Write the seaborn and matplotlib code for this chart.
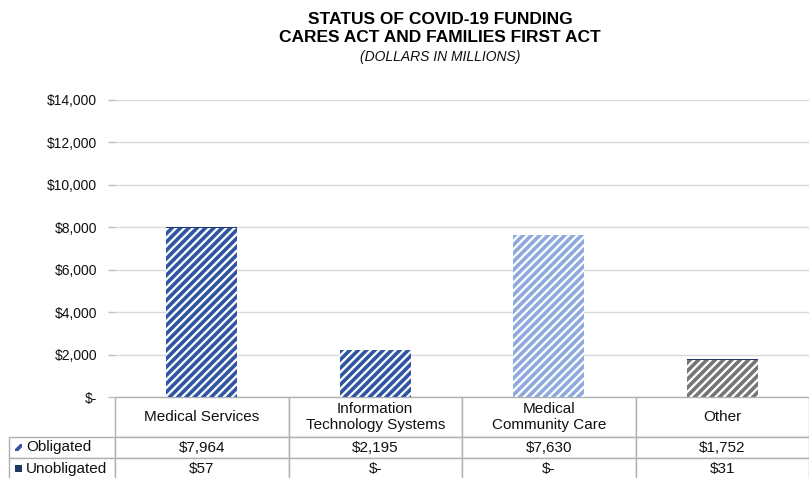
import matplotlib
matplotlib.use("Agg")
import matplotlib.pyplot as plt
import pandas as pd
import seaborn as sns
from matplotlib.patches import Rectangle

# Funding by account (dollars in millions)
categories = ["Medical Services", "Information Technology Systems",
              "Medical Community Care", "Other"]
header_labels = ["Medical Services", "Information\nTechnology Systems",
                 "Medical\nCommunity Care", "Other"]
obligated = [7964, 2195, 7630, 1752]
unobligated = [57, 0, 0, 31]
series_names = ["Obligated", "Unobligated"]
y_ticks = [0, 2000, 4000, 6000, 8000, 10000, 12000, 14000]

hatch_colors = ["#2F55A3", "#2F55A3", "#8EA9DB", "#767676"]
unobligated_color = "#1F3864"
grid_color = "#D9D9D9"
table_edge = "#B0B0B0"

sns.set_theme(style="white")
plt.rcParams["font.family"] = ["Liberation Sans", "DejaVu Sans"]
plt.rcParams["hatch.linewidth"] = 2.6

df = pd.DataFrame({"category": categories,
                   "Obligated": obligated,
                   "Unobligated": unobligated})
df["Total"] = df["Obligated"] + df["Unobligated"]

W, H = 809, 478
fig = plt.figure(figsize=(W / 100, H / 100), dpi=100)
ax_left, ax_bottom, ax_w, ax_h = 115, 397, 694, 297
ax = fig.add_axes([ax_left / W, 1 - ax_bottom / H, ax_w / W, ax_h / H])

# Stacked bars: full total in the unobligated colour, obligated part drawn over it
sns.barplot(data=df, x="category", y="Total", color=unobligated_color,
            width=0.41, saturation=1, errorbar=None, ax=ax, linewidth=0)
n_first = len(ax.patches)
sns.barplot(data=df, x="category", y="Obligated", color="white",
            width=0.41, saturation=1, errorbar=None, ax=ax)
for patch, c in zip(ax.patches[n_first:], hatch_colors):
    patch.set_facecolor("white")
    patch.set_edgecolor(c)
    if hasattr(patch, "set_hatchcolor"):
        patch.set_hatchcolor(c)
    patch.set_linewidth(0)
    patch.set_hatch("////")

# Axes styling
ax.set_ylim(0, 14000)
ax.set_yticks(y_ticks)
ax.set_yticklabels([f"${v:,.0f}" if v else "$-" for v in y_ticks])
ax.set_xlabel("")
ax.set_ylabel("")
ax.set_xticklabels([])
ax.tick_params(axis="x", length=0)
ax.tick_params(axis="y", length=5, width=1, color="#BFBFBF", pad=8,
               labelsize=10, labelcolor="#111111", left=True)
ax.yaxis.grid(True, color=grid_color, linewidth=1)
ax.set_axisbelow(True)
for s in ax.spines.values():
    s.set_visible(False)

# Data table beneath the bars: first column holds the series names
def money(v):
    return f"${v:,.0f}" if v else "$-"

cell_text = [[series_names[0]] + [money(v) for v in obligated],
             [series_names[1]] + [money(v) for v in unobligated]]
label_w = 106
header_h, row_h = 40, 21
tbl = ax.table(cellText=cell_text, colLabels=[""] + header_labels,
               cellLoc="center",
               colWidths=[label_w / ax_w] + [0.25] * 4,
               bbox=[-label_w / ax_w, -(header_h + 2 * row_h) / ax_h,
                     1 + label_w / ax_w, (header_h + 2 * row_h) / ax_h])
tbl.auto_set_font_size(False)
tbl.set_fontsize(11)
for (r, c), cell in tbl.get_celld().items():
    cell.set_edgecolor(table_edge)
    cell.set_linewidth(1)
    cell.set_height(header_h if r == 0 else row_h)
    cell.get_text().set_color("#111111")
    if c == 0:
        if r == 0:
            cell.visible_edges = ""
        else:
            cell.PAD = 0.16
            cell.get_text().set_horizontalalignment("left")
            cell._loc = "left"

# Legend keys inside the series-name cells
key = 7
for i, name in enumerate(series_names):
    yc = -(header_h + row_h * i + row_h / 2) / ax_h
    rect = Rectangle(((15 - ax_left) / ax_w, yc - key / 2 / ax_h),
                     key / ax_w, key / ax_h, transform=ax.transAxes,
                     clip_on=False, linewidth=0)
    if name == "Obligated":
        rect.set_facecolor("white")
        rect.set_edgecolor(hatch_colors[0])
        if hasattr(rect, "set_hatchcolor"):
            rect.set_hatchcolor(hatch_colors[0])
        rect.set_hatch("///")
    else:
        rect.set_facecolor(unobligated_color)
    ax.add_patch(rect)

# Titles
cx = 440 / W
fig.text(cx, 1 - 19 / H, "STATUS OF COVID-19 FUNDING", ha="center",
         va="center", fontsize=12.5, fontweight="bold", color="#000000")
fig.text(cx, 1 - 38 / H, "CARES ACT AND FAMILIES FIRST ACT", ha="center",
         va="center", fontsize=12.5, fontweight="bold", color="#000000")
fig.text(cx, 1 - 57 / H, "(DOLLARS IN MILLIONS)", ha="center",
         va="center", fontsize=10, fontstyle="italic", color="#111111")

fig.savefig("out.png", dpi=100)
